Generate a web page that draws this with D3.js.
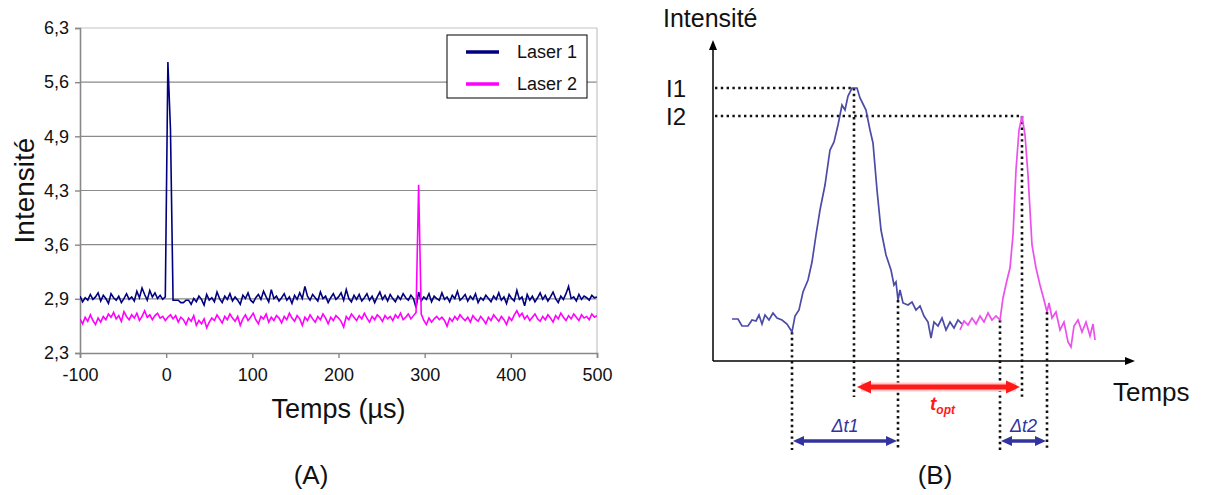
<!DOCTYPE html>
<html><head><meta charset="utf-8">
<script src="https://cdn.jsdelivr.net/npm/d3@7"></script>
<style>body{margin:0;background:#fff} svg{display:block} text{font-family:"Liberation Sans",Arial,sans-serif}</style>
</head><body><svg id="c" width="1205" height="495"></svg>
<script>
// ---------- Panel A data ----------
const timeStart = -100, timeStep = 3;   // µs
const xTicksA = [-100, 0, 100, 200, 300, 400, 500];
const yTicksA = [2.3, 2.967, 3.633, 4.3, 4.967, 5.633, 6.3];
const yTickLabelsA = ["2,3", "2,9", "3,6", "4,3", "4,9", "5,6", "6,3"];
const seriesNames = ["Laser 1", "Laser 2"];
const laser1 = [
 3.00,2.93,2.98,2.95,3.02,2.96,2.99,3.04,2.94,3.01,
 2.97,2.91,3.03,2.98,2.95,3.00,2.92,2.97,3.03,2.96,
 2.99,2.94,3.06,2.98,3.10,3.02,2.95,3.07,2.99,3.04,
 2.97,3.01,2.96,2.99,5.88,5.05,2.95,2.95,2.95,2.92,
 2.92,2.95,2.95,2.90,2.97,2.93,3.00,2.96,2.89,3.02,
 2.95,2.98,2.93,3.05,2.97,2.92,3.00,2.96,3.03,2.94,
 2.99,2.95,2.90,3.01,2.97,3.04,2.95,2.92,2.98,3.02,
 2.96,3.06,2.99,2.93,3.08,2.97,3.00,2.94,2.98,3.03,
 2.95,2.99,2.91,3.01,2.96,3.04,2.97,3.12,3.00,2.95,
 3.02,2.98,2.94,3.05,2.97,3.00,2.92,2.98,3.03,2.96,
 2.99,3.04,2.95,3.08,2.97,2.93,3.01,2.96,3.02,2.94,
 2.98,3.03,2.95,3.00,2.92,2.99,3.05,2.96,3.01,2.94,
 3.02,2.97,2.93,3.00,2.96,3.03,2.98,2.95,3.01,2.97,
 2.86,3.05,2.94,2.99,2.96,3.03,2.93,3.00,2.97,2.95,
 3.04,2.96,2.99,2.93,3.01,2.97,3.06,2.95,2.98,3.02,
 2.94,3.00,2.96,3.03,2.92,2.98,2.95,3.01,2.97,2.93,
 3.00,2.96,3.04,2.95,2.99,2.91,3.02,2.97,2.94,3.07,
 2.96,2.99,2.88,3.02,2.95,3.00,2.93,2.98,3.04,2.96,
 3.01,2.94,2.99,3.05,2.97,2.92,3.00,2.96,3.03,3.12,
 2.97,2.99,2.94,3.02,2.96,3.00,2.98,2.95,3.01,2.98,
 2.99];
const laser2 = [
 2.72,2.66,2.74,2.69,2.77,2.70,2.65,2.73,2.68,2.75,
 2.71,2.78,2.74,2.80,2.72,2.76,2.69,2.81,2.75,2.71,
 2.77,2.73,2.79,2.70,2.75,2.82,2.74,2.77,2.71,2.76,
 2.79,2.73,2.75,2.70,2.74,2.77,2.72,2.76,2.68,2.74,
 2.71,2.65,2.73,2.69,2.76,2.64,2.70,2.66,2.72,2.61,
 2.68,2.73,2.70,2.77,2.72,2.67,2.75,2.71,2.78,2.73,
 2.69,2.75,2.64,2.72,2.77,2.70,2.74,2.79,2.71,2.66,
 2.75,2.72,2.78,2.68,2.74,2.70,2.76,2.73,2.67,2.75,
 2.71,2.79,2.73,2.69,2.76,2.72,2.64,2.74,2.70,2.77,
 2.72,2.68,2.75,2.71,2.78,2.73,2.66,2.74,2.70,2.76,
 2.73,2.69,2.62,2.75,2.71,2.78,2.74,2.70,2.76,2.72,
 2.79,2.73,2.68,2.75,2.71,2.77,2.74,2.69,2.76,2.72,
 2.75,2.70,2.77,2.73,2.79,2.71,2.74,2.78,2.72,2.76,
 2.80,4.37,2.78,2.70,2.65,2.73,2.68,2.72,2.75,2.71,
 2.74,2.70,2.63,2.73,2.69,2.75,2.71,2.77,2.73,2.70,
 2.74,2.68,2.76,2.72,2.69,2.75,2.71,2.66,2.74,2.70,
 2.77,2.73,2.69,2.75,2.71,2.65,2.74,2.70,2.77,2.82,
 2.75,2.79,2.72,2.76,2.70,2.74,2.78,2.72,2.69,2.75,
 2.71,2.77,2.73,2.68,2.76,2.72,2.79,2.74,2.70,2.76,
 2.72,2.78,2.74,2.70,2.77,2.73,2.75,2.71,2.78,2.74,
 2.76];

// ---------- Panel B data (arbitrary units: time, intensity) ----------
const pulse1 = [[19,42],[25,42],[29,35],[35,35],[39,41],[43,40],[46,46],[49,37],[52,46],[56,41],[60,48],[64,43],[69,41],[74,37],[79,29],[82,45],[86,51],[90,69],[95,81],[99,99],[103,126],[107,151],[112,176],[117,211],[121,219],[125,236],[129,256],[132,251],[135,265],[139,273],[144,273],[147,263],[150,257],[153,251],[157,231],[160,218],[164,171],[168,131],[173,106],[178,91],[181,76],[183,79],[185,61],[187,71],[190,58],[195,56],[199,59],[203,51],[207,55],[211,45],[215,39],[218,23],[221,39],[225,35],[229,43],[233,31],[237,39],[241,33],[245,41],[249,37]];
const pulse2 = [[247,31],[251,40],[255,36],[259,43],[263,37],[267,45],[271,39],[275,48],[279,41],[283,45],[287,41],[290,63],[294,81],[297,93],[300,126],[303,191],[306,231],[309,245],[312,226],[315,186],[319,116],[323,93],[327,76],[331,61],[334,49],[336,58],[339,43],[343,49],[347,31],[351,39],[355,19],[358,14],[361,35],[365,41],[369,29],[373,39],[377,25],[380,37],[382,21]];
const levelLabels = ["I1", "I2"];
const levelValues = [273, 245];
const peakTimes = [141, 309];
const widthStarts = [79, 287];
const widthEnds = [185, 334];
const widthStartVals = [29, 41];
const widthEndVals = [61, 49];
const widthLabels = ["\u0394t1", "\u0394t2"];

const svg = d3.select("#c");

// ================= Panel A =================
const xA = d3.scaleLinear().domain([-100, 500]).range([80, 597]);
const yA = d3.scaleLinear().domain([2.3, 6.3]).range([353, 28]);
const gA = svg.append("g");

gA.selectAll("line.grid").data(yTicksA.slice(1)).join("line")
  .attr("x1", xA(-100)).attr("x2", xA(500))
  .attr("y1", d => yA(d)).attr("y2", d => yA(d))
  .attr("stroke", (d, i) => i === yTicksA.length - 2 ? "#c4c4c4" : "#8a8a8a").attr("stroke-width", 1.2);
gA.append("line").attr("x1", xA(500)).attr("x2", xA(500)).attr("y1", yA(6.3)).attr("y2", yA(2.3))
  .attr("stroke", "#c4c4c4").attr("stroke-width", 1.2);

const axL = d3.axisLeft(yA).tickValues(yTicksA).tickFormat((d, i) => yTickLabelsA[i]).tickSize(5).tickPadding(6);
const axB = d3.axisBottom(xA).tickValues(xTicksA).tickFormat(d => String(d)).tickSize(5).tickPadding(10);
const gL = gA.append("g").attr("transform", `translate(${xA(-100)},0)`).call(axL);
const gB = gA.append("g").attr("transform", `translate(0,${yA(2.3)})`).call(axB);
[gL, gB].forEach(g => {
  g.select(".domain").attr("stroke", "#888").attr("stroke-width", 1.6);
  g.selectAll(".tick line").attr("stroke", "#888").attr("stroke-width", 1.4);
  g.selectAll("text").attr("font-family", "Liberation Sans, Arial, sans-serif")
    .attr("font-size", 18).attr("fill", "#111");
});

svg.append("clipPath").attr("id", "clipA").append("rect")
  .attr("x", xA(-100)).attr("y", yA(6.3)).attr("width", xA(500) - xA(-100)).attr("height", yA(2.3) - yA(6.3));
const lineA = d3.line().x((d, i) => xA(timeStart + i * timeStep)).y(d => yA(d));
const colorsA = ["#000080", "#ff00ff"];
[laser1, laser2].forEach((s, k) => {
  gA.append("path").datum(s).attr("d", lineA).attr("fill", "none")
    .attr("stroke", colorsA[k]).attr("stroke-width", 1.6).attr("clip-path", "url(#clipA)");
});

const leg = gA.append("g");
leg.append("rect").attr("x", 447).attr("y", 35).attr("width", 140).attr("height", 63)
  .attr("fill", "#fff").attr("stroke", "#000").attr("stroke-width", 1);
seriesNames.forEach((n, i) => {
  const y = 52 + i * 32;
  leg.append("line").attr("x1", 466).attr("x2", 499).attr("y1", y).attr("y2", y)
    .attr("stroke", colorsA[i]).attr("stroke-width", 3.5);
  leg.append("text").attr("x", 517).attr("y", y + 6).attr("font-size", 18).attr("fill", "#111").text(n);
});

gA.append("text").attr("transform", `translate(34,${yA(4.3)}) rotate(-90)`)
  .attr("text-anchor", "middle").attr("font-size", 28).attr("fill", "#111").text("Intensité");
gA.append("text").attr("x", (xA(-100) + xA(500)) / 2).attr("y", 418)
  .attr("text-anchor", "middle").attr("font-size", 27).attr("fill", "#111").text("Temps (µs)");

// ================= Panel B =================
const xB = d3.scaleLinear().domain([0, 422]).range([713, 1135]);
const yB = d3.scaleLinear().domain([0, 321]).range([361, 40]);
const gBp = svg.append("g");

gBp.append("line").attr("x1", xB(0)).attr("x2", xB(0)).attr("y1", yB(0)).attr("y2", yB(321) + 6)
  .attr("stroke", "#000").attr("stroke-width", 1.5);
gBp.append("line").attr("x1", xB(0)).attr("x2", xB(422) - 6).attr("y1", yB(0)).attr("y2", yB(0))
  .attr("stroke", "#000").attr("stroke-width", 1.5);
gBp.append("path").attr("d", `M${xB(0)},${yB(321)} l-4,10 l8,0 z`).attr("fill", "#000");
gBp.append("path").attr("d", `M${xB(422)},${yB(0)} l-10,-4 l0,8 z`).attr("fill", "#000");

const dot = sel => sel.attr("stroke", "#111").attr("stroke-width", 2.6).attr("stroke-dasharray", "2.4,3.4").attr("fill", "none");

levelValues.forEach((v, i) => {
  gBp.append("line").attr("x1", xB(0) + 2).attr("x2", xB(peakTimes[i])).attr("y1", yB(v)).attr("y2", yB(v)).call(dot);
  gBp.append("text").attr("x", 666).attr("y", yB(v) + 9).attr("font-size", 24).attr("fill", "#111").text(levelLabels[i]);
});
peakTimes.forEach((t, i) => {
  gBp.append("line").attr("x1", xB(t)).attr("x2", xB(t)).attr("y1", yB(levelValues[i])).attr("y2", yB(-36)).call(dot);
});
widthStarts.forEach((t, i) => {
  gBp.append("line").attr("x1", xB(t)).attr("x2", xB(t)).attr("y1", yB(widthStartVals[i])).attr("y2", yB(-89)).call(dot);
  gBp.append("line").attr("x1", xB(widthEnds[i])).attr("x2", xB(widthEnds[i])).attr("y1", yB(widthEndVals[i])).attr("y2", yB(-89)).call(dot);
});

const lineB = d3.line().x(d => xB(d[0])).y(d => yB(d[1]));
gBp.append("path").datum(pulse1).attr("d", lineB).attr("fill", "none").attr("stroke", "#4b4ba8").attr("stroke-width", 1.7);
gBp.append("path").datum(pulse2).attr("d", lineB).attr("fill", "none").attr("stroke", "#ec4fec").attr("stroke-width", 1.7);

function dblArrow(x1, x2, y, color, w, hl, hw, halo) {
  const g = gBp.append("g");
  if (halo) g.append("line").attr("x1", x1 + 4).attr("x2", x2 - 4).attr("y1", y).attr("y2", y)
    .attr("stroke", halo).attr("stroke-width", w + 4);
  g.append("line").attr("x1", x1 + hl - 1).attr("x2", x2 - hl + 1).attr("y1", y).attr("y2", y)
    .attr("stroke", color).attr("stroke-width", w);
  g.append("path").attr("d", `M${x1},${y} l${hl},${-hw / 2} l0,${hw} z`).attr("fill", color);
  g.append("path").attr("d", `M${x2},${y} l${-hl},${-hw / 2} l0,${hw} z`).attr("fill", color);
}
dblArrow(xB(peakTimes[0]) + 3, xB(peakTimes[1]) - 2, yB(-26), "#ff1a1a", 5, 14, 13, "#ffc8c8");
widthStarts.forEach((t, i) => {
  dblArrow(xB(t) + 1, xB(widthEnds[i]) - 1, yB(-80), "#33339e", 3.5, 11, 10, null);
  gBp.append("text").attr("x", (xB(t) + xB(widthEnds[i])) / 2).attr("y", 432)
    .attr("text-anchor", "middle").attr("font-size", 18).attr("font-style", "italic")
    .attr("fill", "#33339e").text(widthLabels[i]);
});
const topt = gBp.append("text").attr("x", 930).attr("y", 410).attr("font-size", 19)
  .attr("font-style", "italic").attr("font-weight", "bold").attr("fill", "#ff1a1a");
topt.append("tspan").text("t");
topt.append("tspan").attr("dy", 4).attr("font-size", 12).text("opt");

gBp.append("text").attr("x", 663).attr("y", 27).attr("font-size", 25).attr("fill", "#111").text("Intensité");
gBp.append("text").attr("x", 1113).attr("y", 401).attr("font-size", 26).attr("fill", "#111").text("Temps");

svg.append("text").attr("x", 311).attr("y", 484).attr("text-anchor", "middle")
  .attr("font-family", "Liberation Serif, Times New Roman, serif").attr("font-size", 26).attr("fill", "#111").text("(A)");
svg.append("text").attr("x", 935).attr("y", 484).attr("text-anchor", "middle")
  .attr("font-family", "Liberation Serif, Times New Roman, serif").attr("font-size", 26).attr("fill", "#111").text("(B)");
</script></body></html>
